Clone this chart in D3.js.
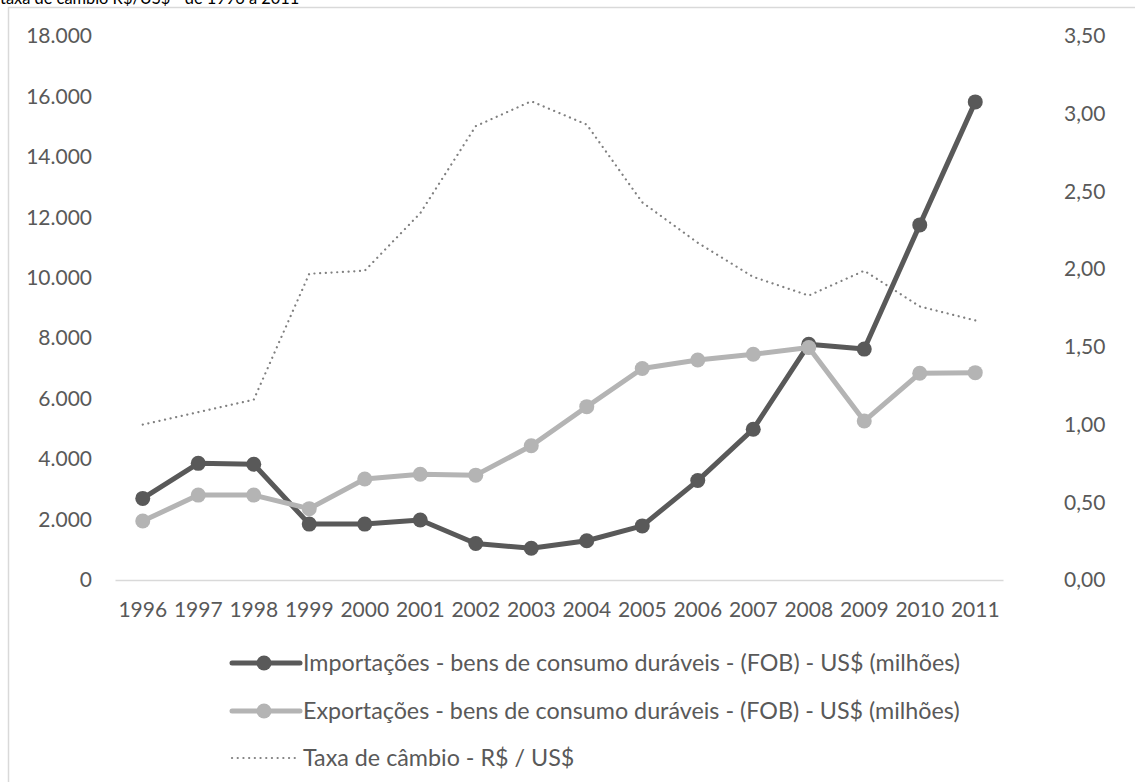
<!DOCTYPE html>
<html>
<head>
<meta charset="utf-8">
<script src="https://cdn.jsdelivr.net/npm/d3@7"></script>
<style>
  html, body { margin: 0; padding: 0; background: #fff; }
  svg { display: block; }
  text { font-family: Lato, "Open Sans", sans-serif; }
</style>
</head>
<body>
<svg id="chart" width="1135" height="782"></svg>
<script>
// Anos da série
const years = ["1996","1997","1998","1999","2000","2001","2002","2003","2004","2005","2006","2007","2008","2009","2010","2011"];

// Importações - bens de consumo duráveis (FOB), US$ milhões
const importacoes = [2700, 3860, 3830, 1850, 1850, 1985, 1210, 1050, 1300, 1790, 3290, 4990, 7800, 7640, 11750, 15820];

// Exportações - bens de consumo duráveis (FOB), US$ milhões
const exportacoes = [1950, 2810, 2810, 2360, 3340, 3500, 3470, 4440, 5735, 7000, 7280, 7470, 7690, 5260, 6840, 6860];

// Taxa de câmbio R$ / US$
const cambio = [1.00, 1.08, 1.16, 1.97, 1.99, 2.36, 2.92, 3.08, 2.93, 2.43, 2.17, 1.95, 1.83, 1.99, 1.76, 1.67];

// Marcas dos eixos
const leftTicks = [0, 2000, 4000, 6000, 8000, 10000, 12000, 14000, 16000, 18000];
const rightTicks = [0, 0.5, 1.0, 1.5, 2.0, 2.5, 3.0, 3.5];

const legendLabels = [
  "Importações - bens de consumo duráveis - (FOB) - US$ (milhões)",
  "Exportações - bens de consumo duráveis - (FOB) - US$ (milhões)",
  "Taxa de câmbio - R$ / US$"
];

const title = "taxa de câmbio R$/US$ - de 1996 a 2011";

const colDark = "#595959", colLight = "#b4b4b4", colDot = "#808080", colText = "#595959";

const svg = d3.select("#chart");

// Título (parcialmente acima da borda da página)
svg.append("text")
  .attr("x", 0).attr("y", 4)
  .attr("font-family", "Arial, 'Liberation Sans', sans-serif")
  .attr("font-size", 16.4)
  .attr("fill", "#000")
  .text(title);

// Moldura da área do gráfico
svg.append("rect")
  .attr("x", 8.5).attr("y", 7.5)
  .attr("width", 1200).attr("height", 900)
  .attr("fill", "none")
  .attr("stroke", "#d9d9d9")
  .attr("stroke-width", 1.5);

const plot = { left: 115, right: 1003, top: 36, bottom: 580 };

const x = d3.scaleBand().domain(years).range([plot.left, plot.right]);
const cx = d => x(d) + x.bandwidth() / 2;
const yL = d3.scaleLinear().domain([0, 18000]).range([plot.bottom, plot.top]);
const yR = d3.scaleLinear().domain([0, 3.5]).range([plot.bottom, plot.top]);

const fmtL = v => d3.format(",")(v).replace(/,/g, ".");
const fmtR = v => d3.format(".2f")(v).replace(".", ",");

// Eixo esquerdo
const axL = svg.append("g")
  .attr("transform", `translate(${plot.left - 23},0)`)
  .call(d3.axisLeft(yL).tickValues(leftTicks).tickFormat(fmtL).tickSize(0).tickPadding(0));
axL.select(".domain").remove();
axL.selectAll("text").attr("font-size", 21).attr("fill", colText).attr("font-family", "Lato, sans-serif");

// Eixo direito
const axR = svg.append("g")
  .attr("transform", `translate(${plot.right + 61},0)`)
  .call(d3.axisRight(yR).tickValues(rightTicks).tickFormat(fmtR).tickSize(0).tickPadding(0));
axR.select(".domain").remove();
axR.selectAll("text").attr("font-size", 21).attr("fill", colText).attr("font-family", "Lato, sans-serif");

// Eixo das categorias
const axX = svg.append("g")
  .attr("transform", `translate(0,${plot.bottom})`)
  .call(d3.axisBottom(x).tickSize(0).tickPadding(22));
axX.select(".domain").attr("stroke", "#d9d9d9").attr("stroke-width", 1.5);
axX.selectAll("text").attr("font-size", 21).attr("fill", colText).attr("font-family", "Lato, sans-serif");

// Taxa de câmbio (linha pontilhada)
svg.append("path")
  .datum(cambio)
  .attr("fill", "none")
  .attr("stroke", colDot)
  .attr("stroke-width", 2.2)
  .attr("stroke-linecap", "round")
  .attr("stroke-dasharray", "0.1 5.6")
  .attr("d", d3.line().x((d, i) => cx(years[i])).y(d => yR(d)));

function drawSeries(values, color) {
  const g = svg.append("g");
  g.append("path")
    .datum(values)
    .attr("fill", "none")
    .attr("stroke", color)
    .attr("stroke-width", 5)
    .attr("stroke-linejoin", "round")
    .attr("d", d3.line().x((d, i) => cx(years[i])).y(d => yL(d)));
  g.selectAll("circle")
    .data(values)
    .join("circle")
    .attr("cx", (d, i) => cx(years[i]))
    .attr("cy", d => yL(d))
    .attr("r", 7.5)
    .attr("fill", color);
}

drawSeries(importacoes, colDark);
drawSeries(exportacoes, colLight);

// Legenda
const legend = svg.append("g");
const legY = [663, 711, 758];
const legStyles = [
  { color: colDark, width: 5, marker: true, dash: null },
  { color: colLight, width: 5, marker: true, dash: null },
  { color: colDot, width: 2.2, marker: false, dash: "0.1 5.6" }
];
legendLabels.forEach((lab, i) => {
  const s = legStyles[i];
  const row = legend.append("g").attr("transform", `translate(0,${legY[i]})`);
  row.append("line")
    .attr("x1", 232).attr("x2", 300)
    .attr("stroke", s.color)
    .attr("stroke-width", s.width)
    .attr("stroke-linecap", "round")
    .attr("stroke-dasharray", s.dash);
  if (s.marker) {
    row.append("circle").attr("cx", 264).attr("r", 7.5).attr("fill", s.color);
  }
  row.append("text")
    .attr("x", 303)
    .attr("dy", "0.35em")
    .attr("font-size", 23.3)
    .attr("fill", colText)
    .text(lab);
});
</script>
</body>
</html>
